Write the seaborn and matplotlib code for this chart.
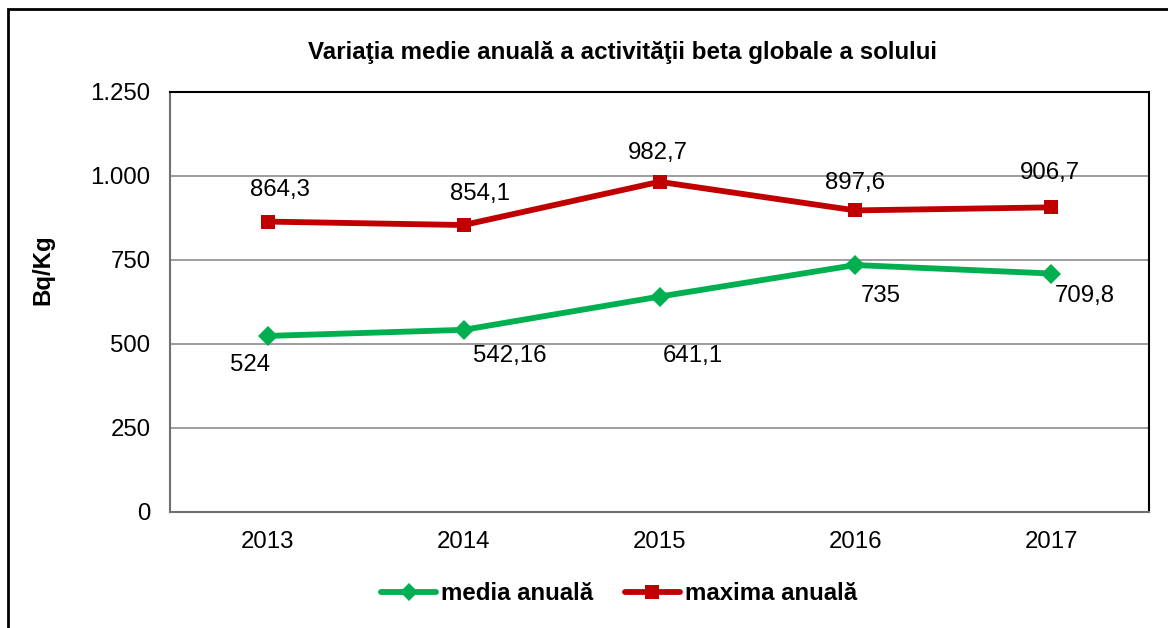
import pandas as pd
import seaborn as sns
import matplotlib.pyplot as plt
from matplotlib.ticker import FuncFormatter, FixedLocator
from matplotlib.lines import Line2D
from matplotlib.patches import Rectangle

# Data
years = ["2013", "2014", "2015", "2016", "2017"]
media_anuala = [524, 542.16, 641.1, 735, 709.8]
maxima_anuala = [864.3, 854.1, 982.7, 897.6, 906.7]
series_names = ["media anuală", "maxima anuală"]
y_ticks = [0, 250, 500, 750, 1000, 1250]

# label offsets in points (dx, dy) for each data label
media_offsets = [(-13, -21), (33, -19), (24, -43), (18, -22), (24, -16)]
maxima_offsets = [(9, 23), (12, 22), (-1, 21), (0, 20), (-1, 25)]

green = "#00B050"
red = "#C00000"

sns.set_style("white", {"text.color": "black", "xtick.color": "black", "ytick.color": "black",
                        "axes.labelcolor": "black"})
plt.rcParams["font.family"] = ["Liberation Sans", "DejaVu Sans"]

df = pd.DataFrame({
    "year": years * 2,
    "value": media_anuala + maxima_anuala,
    "serie": [series_names[0]] * len(years) + [series_names[1]] * len(years),
})

fig = plt.figure(figsize=(11.68, 6.28), dpi=100)
ax = fig.add_axes([170 / 1168, 1 - 512 / 628, 979 / 1168, 420 / 628])

sns.lineplot(data=df, x="year", y="value", hue="serie", style="serie",
             palette=[green, red], markers=["D", "s"], dashes=False,
             linewidth=4.2, markersize=10, markeredgewidth=0, ax=ax, legend=False)

fs = 17.3
ax.set_xlim(-0.5, 4.5)
ax.set_ylim(0, 1250)
ax.yaxis.set_major_locator(FixedLocator(y_ticks))
ax.yaxis.set_major_formatter(FuncFormatter(lambda v, p: f"{int(v):,}".replace(",", ".")))
ax.grid(axis="y", color="#8c8c8c", linewidth=1.2)
ax.set_axisbelow(True)
ax.tick_params(axis="y", length=0, labelsize=fs, pad=14)
ax.set_xticks(range(5))
ax.set_xticks([i - 0.5 for i in range(6)], minor=True)
ax.tick_params(axis="x", which="major", length=0, labelsize=fs, pad=14)
ax.tick_params(axis="x", which="minor", length=6, color="#8c8c8c", width=1.2)
ax.set_xlabel("")
ax.set_ylabel("")
fig.text(43 / 1168, 1 - 270 / 628, "Bq/Kg", rotation=90, ha="center", va="center",
         fontsize=fs, fontweight="bold")

for side in ["top", "right"]:
    ax.spines[side].set_visible(True)
    ax.spines[side].set_color("black")
    ax.spines[side].set_linewidth(1.5)
for side in ["left", "bottom"]:
    ax.spines[side].set_color("#707070")
    ax.spines[side].set_linewidth(1.5)


def fmt(v):
    return f"{v:g}".replace(".", ",")


for i, v in enumerate(media_anuala):
    ax.annotate(fmt(v), (i, v), xytext=media_offsets[i], textcoords="offset points",
                ha="center", va="center", fontsize=fs)
for i, v in enumerate(maxima_anuala):
    ax.annotate(fmt(v), (i, v), xytext=maxima_offsets[i], textcoords="offset points",
                ha="center", va="center", fontsize=fs)

fig.text(622 / 1168, 1 - 52 / 628, "Variaţia medie anuală a activităţii beta globale a solului",
         ha="center", va="center", fontsize=17.4, fontweight="bold")

handles = [
    Line2D([], [], color=green, marker="D", linewidth=4.2, markersize=9, markeredgewidth=0),
    Line2D([], [], color=red, marker="s", linewidth=4.2, markersize=10, markeredgewidth=0),
]
fig.legend(handles, series_names, loc="center", bbox_to_anchor=(619 / 1168, 1 - 594 / 628),
           ncol=2, frameon=False, handlelength=2.3, handletextpad=0.2, columnspacing=1.3,
           prop={"weight": "bold", "size": fs})

# outer chart border (left and top edges visible in the reference)
fig.patches.append(Rectangle((8 / 1168, -0.1), 1.2, 1 - 9 / 628 + 0.1, transform=fig.transFigure,
                             fill=False, edgecolor="black", linewidth=2))

fig.savefig("out.png", dpi=100)
